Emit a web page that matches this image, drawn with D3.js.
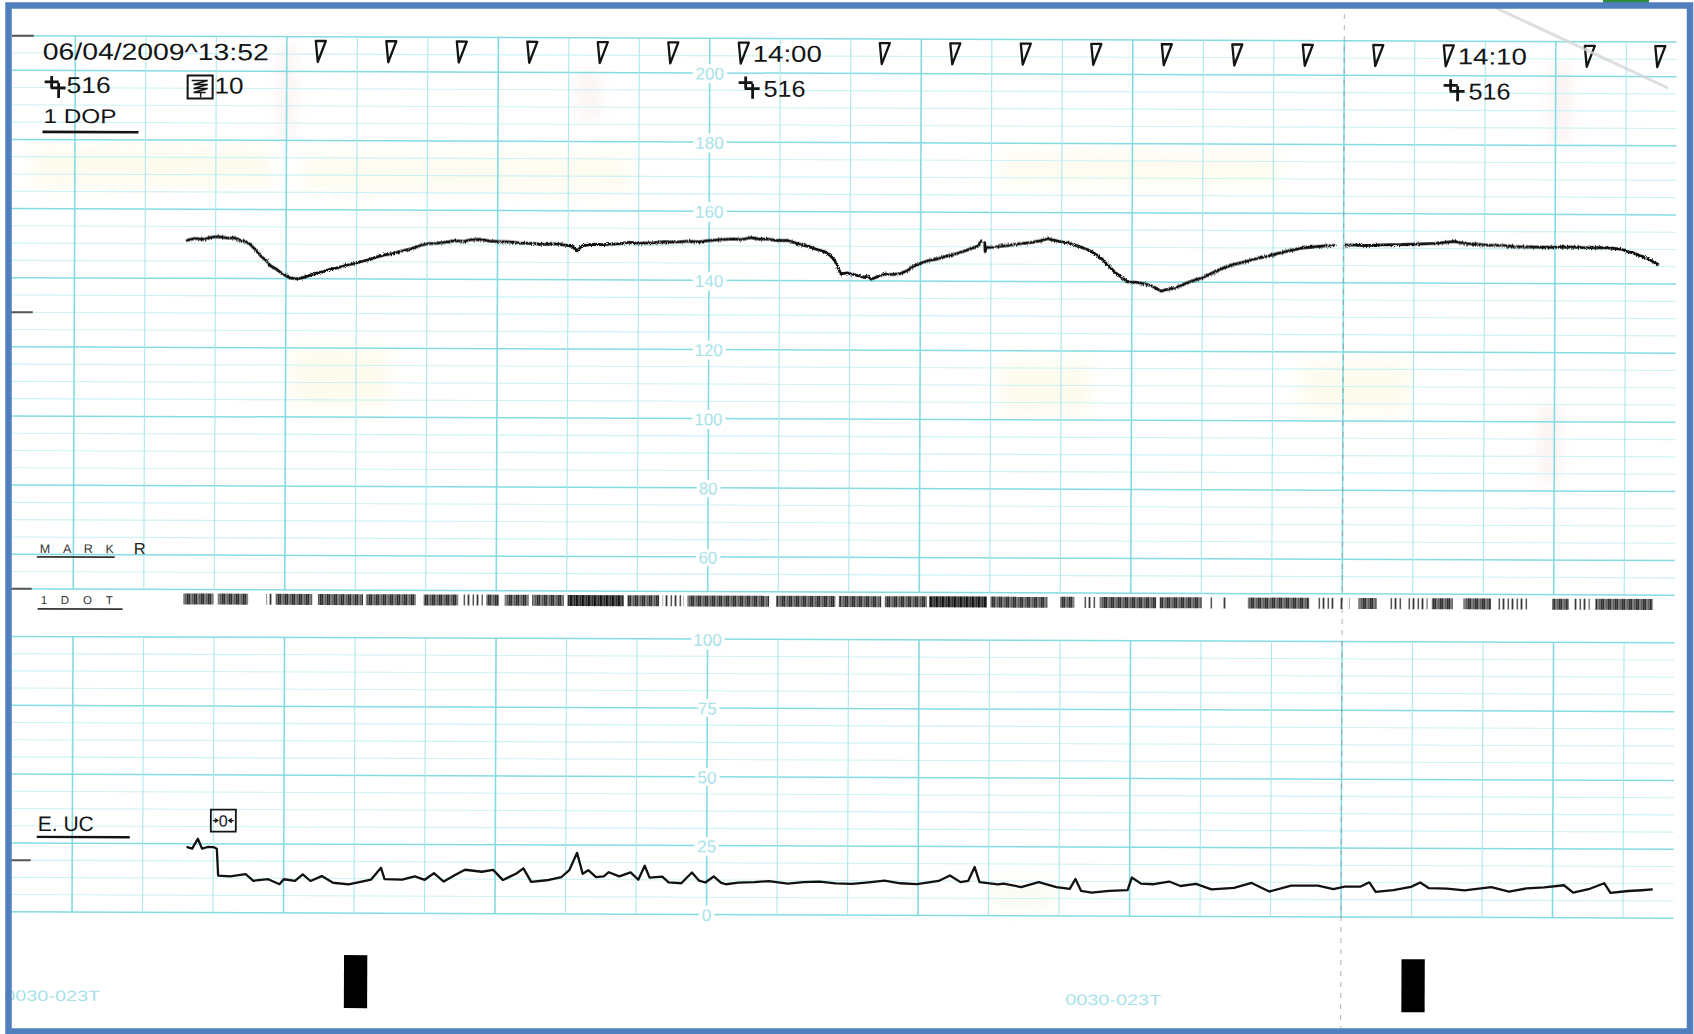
<!DOCTYPE html>
<html>
<head>
<meta charset="utf-8">
<title>CTG strip 06/04/2009 13:52</title>
<script src="https://cdn.jsdelivr.net/npm/d3@7/dist/d3.min.js"></script>
<style>
  html, body { margin: 0; padding: 0; background: #fff; overflow: hidden; }
  svg { display: block; }
  text { font-family: "Liberation Sans", Arial, sans-serif; }
</style>
</head>
<body>
<svg id="ctg" width="1694" height="1034"></svg>
<script>
// ---------------- data ----------------
const dateLabel = "06/04/2009^13:52";
const probeCode = "516";
const uaScaleCode = "10";
const hrChannel = "1 DOP";
const ucChannel = "E. UC";
const paperCode = "0030-023T";

// minute markers (minutes after 13:52); 9 and 19 sit under the time texts
const minuteMarks = [2, 3, 4, 5, 6, 7, 8, 10, 11, 12, 13, 14, 15, 16, 17, 18, 20, 21];
const timeLabels = [{ minute: 8, text: "14:00" }, { minute: 18, text: "14:10" }];
const probeMarks = [8, 18];

const fhrTicks = [60, 80, 100, 120, 140, 160, 180, 200];
const ucTicks = [0, 25, 50, 75, 100];

// fetal heart rate [minute, bpm]; null = pen lift
const fhrTrace = [
  [0.18,151.0],[0.30,151.6],[0.42,151.3],[0.55,152.0],[0.64,152.1],[0.75,151.7],[0.85,151.8],
  [0.94,151.1],[1.02,150.6],[1.08,149.9],[1.15,148.4],[1.23,146.6],[1.30,145.4],[1.37,143.7],
  [1.45,142.8],[1.52,141.7],[1.58,141.0],[1.64,140.3],[1.72,140.0],[1.81,140.2],[1.90,140.8],
  [2.01,141.6],[2.10,142.0],[2.20,142.7],[2.30,143.1],[2.42,143.8],[2.53,144.3],[2.64,145.0],
  [2.75,145.5],[2.86,146.3],[2.99,147.0],[3.10,147.4],[3.24,148.2],[3.38,148.9],[3.50,149.8],
  [3.60,150.3],[3.72,150.4],[3.87,150.8],[4.00,151.2],[4.10,150.9],[4.21,151.5],[4.35,151.6],
  [4.48,151.1],[4.60,151.0],[4.75,150.9],[4.90,150.6],[5.09,150.5],[5.25,150.2],[5.40,150.4],
  [5.57,150.0],[5.65,149.6],[5.72,148.4],[5.78,149.7],[5.82,150.0],[5.95,150.3],[6.10,150.2],
  [6.31,150.5],[6.45,150.9],[6.60,150.6],[6.80,150.8],[6.95,151.1],[7.10,151.0],[7.28,151.3],
  [7.45,151.1],[7.58,151.5],[7.75,151.8],[7.94,152.0],[8.05,151.8],[8.18,152.4],[8.30,152.0],
  [8.42,152.0],[8.55,151.6],[8.71,151.6],[8.80,151.0],[8.89,150.4],[9.00,149.9],[9.10,149.2],
  [9.22,148.5],[9.30,147.5],[9.37,145.9],[9.42,143.8],[9.46,142.0],[9.55,142.3],[9.60,142.0],
  [9.70,141.6],[9.79,141.0],[9.84,141.4],[9.89,140.5],[9.98,141.2],[10.08,142.0],[10.20,141.9],
  [10.31,142.2],[10.40,143.0],[10.50,144.4],[10.60,145.2],[10.69,145.9],[10.80,146.3],
  [10.97,147.3],[11.10,148.0],[11.26,149.1],[11.40,150.2],[11.45,151.7],
  [11.47,null],
  [11.50,151.2],[11.505,148.6],[11.52,149.8],[11.62,149.9],[11.73,150.2],[11.85,150.5],
  [12.01,151.0],[12.15,151.3],[12.28,151.8],[12.39,152.4],[12.48,152.0],[12.58,151.6],
  [12.68,151.2],[12.80,150.5],[12.96,149.3],[13.05,148.3],[13.15,146.8],[13.25,144.8],
  [13.34,142.9],[13.43,141.5],[13.53,140.0],[13.64,139.9],[13.76,139.5],[13.85,139.0],
  [13.93,138.2],[14.00,137.4],[14.08,137.8],[14.19,138.3],[14.30,139.2],[14.47,140.5],
  [14.60,141.4],[14.72,142.6],[14.85,143.9],[15.04,145.2],[15.20,146.0],[15.35,146.9],
  [15.51,147.6],[15.65,148.4],[15.80,149.1],[15.99,150.0],[16.15,150.3],[16.30,150.6],
  [16.46,150.8],
  [16.54,null],
  [16.62,150.9],[16.70,151.0],[16.90,150.8],[17.10,151.0],[17.40,151.1],[17.65,151.3],
  [17.90,151.5],[18.16,152.1],[18.30,151.5],[18.50,151.3],[18.65,151.0],[18.82,151.0],
  [19.00,150.7],[19.20,150.6],[19.53,150.5],[19.80,150.6],[20.00,150.4],[20.24,150.5],
  [20.40,150.3],[20.53,150.0],[20.62,149.3],[20.71,148.9],[20.80,148.1],[20.90,147.3],
  [21.05,145.7]
];

// uterine contraction [minute, value]
const ucTrace = [
  [0.21,23.8],[0.29,23.2],[0.37,26.8],[0.43,23.2],[0.51,23.8],[0.59,23.8],[0.64,23.2],
  [0.66,13.4],[0.83,13.2],[1.05,14.0],[1.16,11.6],[1.37,12.2],[1.53,10.4],[1.59,12.2],
  [1.75,11.6],[1.86,14.0],[1.97,11.6],[2.13,13.4],[2.29,11.0],[2.51,10.4],[2.83,12.2],
  [2.97,16.5],[3.02,12.4],[3.27,12.2],[3.45,13.4],[3.59,12.2],[3.72,14.6],[3.86,11.6],
  [4.02,14.0],[4.16,15.9],[4.40,15.2],[4.56,15.9],[4.70,12.2],[4.89,14.6],[4.99,16.5],
  [5.10,11.6],[5.32,12.2],[5.53,13.4],[5.64,15.9],[5.75,22.2],[5.83,14.6],[5.91,15.9],
  [6.02,13.4],[6.13,13.7],[6.20,15.2],[6.35,13.7],[6.51,15.2],[6.62,12.5],[6.71,17.6],
  [6.78,13.3],[6.96,13.7],[7.05,11.6],[7.23,11.3],[7.38,15.2],[7.48,12.3],[7.57,11.6],
  [7.69,13.8],[7.79,11.6],[7.86,11.0],[8.04,11.6],[8.27,11.8],[8.47,12.2],[8.74,11.3],
  [8.96,11.9],[9.19,12.1],[9.42,11.5],[9.65,11.3],[9.89,11.9],[10.11,12.5],[10.34,11.6],
  [10.57,11.3],[10.74,12.0],[10.88,12.5],[11.04,14.5],[11.19,12.1],[11.30,12.6],[11.39,17.6],
  [11.46,12.1],[11.72,11.3],[11.80,11.6],[12.05,10.4],[12.30,12.2],[12.55,10.4],[12.74,9.8],
  [12.82,13.4],[12.90,9.1],[13.05,8.5],[13.30,9.1],[13.56,9.4],[13.62,14.0],[13.75,11.8],
  [13.93,11.6],[14.15,12.6],[14.31,11.0],[14.53,11.8],[14.75,9.8],[15.07,10.4],[15.32,12.2],
  [15.57,9.1],[15.88,11.3],[16.26,11.3],[16.48,10.1],[16.64,11.0],[16.86,11.0],[16.99,12.6],
  [17.08,9.1],[17.33,9.8],[17.58,11.0],[17.71,12.6],[17.83,10.6],[18.09,10.4],[18.34,9.8],
  [18.72,11.0],[18.97,9.4],[19.22,10.6],[19.47,11.0],[19.75,11.8],[19.88,9.1],[20.10,10.4],
  [20.32,12.6],[20.41,9.1],[20.66,9.8],[20.85,10.1],[21.01,10.4]
];

// fetal movement / dot channel runs [fromMinute, toMinute, density]
const movementRuns = [
  [0.15,0.58,"d"],[0.64,1.07,"d"],[1.33,1.42,"s"],[1.46,1.98,"d"],[2.06,2.70,"d"],[2.74,3.45,"d"],
  [3.56,4.05,"d"],[4.12,4.40,"s"],[4.45,4.63,"d"],[4.71,5.05,"d"],[5.10,5.55,"d"],[5.60,6.40,"h"],
  [6.45,6.90,"d"],[6.95,7.25,"s"],[7.30,8.46,"d"],[8.56,9.40,"d"],[9.45,10.05,"d"],[10.10,10.70,"d"],
  [10.73,11.55,"h"],[11.60,12.41,"d"],[12.59,12.79,"d"],[12.92,13.10,"s"],[13.15,13.95,"d"],
  [14.00,14.60,"d"],[14.71,14.76,"s"],[14.88,14.94,"s"],[15.25,16.12,"d"],[16.22,16.47,"s"],
  [16.55,16.60,"s"],[16.66,16.70,"s"],[16.82,17.08,"d"],[17.24,17.45,"s"],[17.52,17.80,"s"],
  [17.86,18.16,"d"],[18.31,18.70,"d"],[18.78,19.23,"s"],[19.57,19.80,"d"],[19.88,20.10,"s"],
  [20.18,20.99,"d"]
];

// black page-sense blocks printed on the paper (minutes)
const pageMarks = [2.45, 17.45];

// ---------------- layout ----------------
const W = 1694, H = 1034;
const svg = d3.select("#ctg");
svg.append("rect").attr("width", W).attr("height", H).attr("fill", "#ffffff");

const defs = svg.append("defs");
// soft bleed of the thermal paper stains
defs.append("filter").attr("id", "bleed").attr("x", "-30%").attr("y", "-30%")
  .attr("width", "160%").attr("height", "160%")
  .append("feGaussianBlur").attr("stdDeviation", 8);
// slight pen chatter of the thermal print head
const chatter = defs.append("filter").attr("id", "chatter")
  .attr("filterUnits", "userSpaceOnUse")
  .attr("x", 0).attr("y", 0).attr("width", W).attr("height", H);
chatter.append("feTurbulence").attr("type", "fractalNoise")
  .attr("baseFrequency", "1.3 0.9").attr("numOctaves", 1).attr("seed", 3).attr("result", "n");
chatter.append("feDisplacementMap").attr("in", "SourceGraphic").attr("in2", "n")
  .attr("scale", 3.6).attr("xChannelSelector", "R").attr("yChannelSelector", "G");

// the strip sits very slightly skewed on the scanner bed
const paper = svg.append("g").attr("transform", "rotate(0.22 847 517)");

const x = d3.scaleLinear().domain([0, 21]).range([173, 173 + 21 * 70.5]);
const yHR = d3.scaleLinear().domain([50, 210]).range([592, 592 - 160 * 3.457]);
const yUC = d3.scaleLinear().domain([0, 100]).range([915, 915 - 100 * 2.7536]);

const gridLeft = 10, gridRight = 1675;
const gridOrigin = 7.589;                 // paper column on which the scale is printed
const paperColumns = d3.range(-9, 14);     // one-minute paper divisions
const labelX = x(gridOrigin);

const cyanStrong = "#84dbe2", cyanSoft = "#cdf2f4", cyanMid = "#ade8ed";

// faint paper discolouration
const stains = paper.append("g").attr("filter", "url(#bleed)").attr("opacity", 0.35);
[
  [30, 150, 240, 40, "#fbf4cf"], [300, 155, 330, 40, "#fbf6d6"], [1000, 150, 280, 35, "#fbf6d6"],
  [290, 350, 100, 60, "#fbf4cf"], [1000, 360, 90, 55, "#fbf4cf"], [1300, 360, 110, 50, "#fbf4cf"],
  [278, 45, 14, 95, "#f6d6d6"], [1548, 60, 22, 80, "#f7dcdc"], [1538, 400, 22, 80, "#f7dcdc"],
  [575, 70, 24, 50, "#f7dede"], [990, 880, 70, 30, "#f5f5e0"]
].forEach(([sx, sy, sw, sh, c]) => stains.append("rect")
  .attr("x", sx).attr("y", sy).attr("width", sw).attr("height", sh).attr("fill", c));

// --- horizontal grid: heart rate section
const hrLines = d3.range(50, 211, 5);
const hrMajor = d => d % 20 === 0 || d === 210 || d === 50;
paper.append("g").selectAll("line").data(hrLines).join("line")
  .attr("x1", gridLeft).attr("x2", gridRight)
  .attr("y1", d => yHR(d)).attr("y2", d => yHR(d))
  .attr("stroke", d => hrMajor(d) ? cyanStrong : cyanSoft)
  .attr("stroke-width", d => hrMajor(d) ? 1.5 : 1.1);

// --- horizontal grid: contraction section
const ucLines = d3.range(0, 100.01, 6.25);
paper.append("g").selectAll("line").data(ucLines).join("line")
  .attr("x1", gridLeft).attr("x2", gridRight)
  .attr("y1", d => yUC(d)).attr("y2", d => yUC(d))
  .attr("stroke", d => d % 25 === 0 ? cyanStrong : cyanSoft)
  .attr("stroke-width", d => d % 25 === 0 ? 1.5 : 1.1);

// --- vertical grid in both sections
[[yHR(210), yHR(50)], [yUC(100), yUC(0)]].forEach(([y0, y1]) => {
  paper.append("g").selectAll("line").data(paperColumns).join("line")
    .attr("x1", k => x(gridOrigin + k)).attr("x2", k => x(gridOrigin + k))
    .attr("y1", y0).attr("y2", y1)
    .attr("stroke", k => k % 3 === 0 ? cyanStrong : cyanMid)
    .attr("stroke-width", k => k % 3 === 0 ? 1.6 : 1.1);
});

// perforation fold
paper.append("line")
  .attr("x1", x(gridOrigin + 9)).attr("x2", x(gridOrigin + 9))
  .attr("y1", 12).attr("y2", 1026)
  .attr("stroke", "#8f8f8f").attr("stroke-width", 1.3)
  .attr("stroke-dasharray", "5 6").attr("opacity", 0.55);

// --- printed scale numbers in the centre column
function scaleLabels(scale, ticks) {
  const g = paper.append("g")
    .attr("transform", `translate(${labelX},0)`)
    .call(d3.axisRight(scale).tickValues(ticks).tickSize(0).tickFormat(d3.format("d")));
  g.select(".domain").remove();
  g.selectAll("text")
    .attr("x", 0).attr("dy", "0.36em")
    .attr("text-anchor", "middle")
    .attr("fill", "#a8e2e9")
    .attr("font-size", 17)
    .attr("font-family", "Liberation Sans, Arial, sans-serif")
    .attr("stroke", "#ffffff").attr("stroke-width", 7)
    .attr("paint-order", "stroke");
}
scaleLabels(yHR, fhrTicks);
scaleLabels(yUC, ucTicks);

// --- left edge ticks
const edgeTicks = [yHR(210), yHR(130), yHR(50), yUC(18.75)];
paper.append("g").selectAll("line").data(edgeTicks).join("line")
  .attr("x1", 10).attr("x2", 32).attr("y1", d => d).attr("y2", d => d)
  .attr("stroke", "#555").attr("stroke-width", 2);

// ---------------- annotation row ----------------
const ink = "#141414";

// minute triangles
paper.append("g").selectAll("path").data(minuteMarks).join("path")
  .attr("d", m => { const x0 = x(m); return `M${x0},43 H${x0 + 10} L${x0 + 2},64 Z`; })
  .attr("fill", "none").attr("stroke", ink).attr("stroke-width", 2.3)
  .attr("stroke-linejoin", "round");

// time stamps
paper.append("g").selectAll("text").data(timeLabels).join("text")
  .attr("x", d => x(d.minute) + 14).attr("y", 62)
  .attr("font-size", 23).attr("fill", ink)
  .attr("textLength", 69).attr("lengthAdjust", "spacingAndGlyphs")
  .text(d => d.text);

// transducer symbol
function probeIcon(g, x0, y0) {
  g.append("path")
    .attr("d", `M${x0},${y0 + 6} H${x0 + 14} M${x0 + 7},${y0} V${y0 + 12} M${x0 + 6},${y0 + 12} H${x0 + 21} M${x0 + 14},${y0 + 7} V${y0 + 22}`)
    .attr("stroke", ink).attr("stroke-width", 2.8).attr("fill", "none");
}
probeMarks.forEach(m => {
  probeIcon(paper, x(m), 77);
  paper.append("text").attr("x", x(m) + 25).attr("y", 97)
    .attr("font-size", 23).attr("fill", ink)
    .attr("textLength", 42).attr("lengthAdjust", "spacingAndGlyphs")
    .text(probeCode);
});

// ---------------- header block ----------------
paper.append("text").attr("x", 41).attr("y", 62.5)
  .attr("font-size", 23.5).attr("fill", ink)
  .attr("textLength", 226).attr("lengthAdjust", "spacingAndGlyphs")
  .text(dateLabel);

probeIcon(paper, 43, 79);
paper.append("text").attr("x", 65).attr("y", 96)
  .attr("font-size", 23).attr("fill", ink)
  .attr("textLength", 44).attr("lengthAdjust", "spacingAndGlyphs")
  .text(probeCode);

// sensitivity box
paper.append("rect").attr("x", 186).attr("y", 78).attr("width", 25).attr("height", 23)
  .attr("fill", "none").attr("stroke", ink).attr("stroke-width", 2);
paper.append("path")
  .attr("d", "M190,83 H206 L192,87 H206 L192,91 H206 L192,95 H204 M199,95 V100")
  .attr("fill", "none").attr("stroke", ink).attr("stroke-width", 1.4);
paper.append("text").attr("x", 213).attr("y", 96)
  .attr("font-size", 23).attr("fill", ink)
  .attr("textLength", 29).attr("lengthAdjust", "spacingAndGlyphs")
  .text(uaScaleCode);

paper.append("text").attr("x", 42).attr("y", 126)
  .attr("font-size", 20).attr("fill", ink)
  .attr("textLength", 73).attr("lengthAdjust", "spacingAndGlyphs")
  .text(hrChannel);
paper.append("line").attr("x1", 41).attr("x2", 137).attr("y1", 135).attr("y2", 135)
  .attr("stroke", ink).attr("stroke-width", 2.6);

// MARK / DOT channel captions
paper.append("text").attr("x", 40).attr("y", 556)
  .attr("font-size", 12.5).attr("fill", "#333")
  .attr("textLength", 74).attr("lengthAdjust", "spacing")
  .text("MARK");
paper.append("line").attr("x1", 37).attr("x2", 115).attr("y1", 560).attr("y2", 560)
  .attr("stroke", "#333").attr("stroke-width", 1.8);
paper.append("text").attr("x", 134).attr("y", 557)
  .attr("font-size", 16.5).attr("fill", "#222").text("R");

paper.append("text").attr("x", 41).attr("y", 607)
  .attr("font-size", 11.5).attr("fill", "#333")
  .attr("textLength", 72).attr("lengthAdjust", "spacing")
  .text("1DOT");
paper.append("line").attr("x1", 38).attr("x2", 123).attr("y1", 612).attr("y2", 612)
  .attr("stroke", "#333").attr("stroke-width", 1.8);

// contraction caption
paper.append("text").attr("x", 39).attr("y", 834)
  .attr("font-size", 21).attr("fill", ink)
  .attr("textLength", 56).attr("lengthAdjust", "spacingAndGlyphs")
  .text(ucChannel);
paper.append("line").attr("x1", 38).attr("x2", 131).attr("y1", 840).attr("y2", 840)
  .attr("stroke", ink).attr("stroke-width", 2.4);

// zero-reference box
paper.append("rect").attr("x", 212).attr("y", 812).attr("width", 25).attr("height", 22)
  .attr("fill", "none").attr("stroke", ink).attr("stroke-width", 1.8);
paper.append("text").attr("x", 224.5).attr("y", 829)
  .attr("text-anchor", "middle").attr("font-size", 16).attr("fill", ink).text("0");
paper.append("path")
  .attr("d", "M214,823 H218 M216,821 L219,823 L216,825 M235,823 H231 M233,821 L230,823 L233,825")
  .attr("fill", "none").attr("stroke", ink).attr("stroke-width", 1.3);

// ---------------- movement dot channel ----------------
const patterns = {
  d: { w: 7, bars: [[0, 1.6], [2.6, 1.2], [4.6, 2.0]] },
  h: { w: 6, bars: [[0, 2.8], [3.4, 2.2]] },
  s: { w: 9, bars: [[0, 1.5], [5, 1.1]] }
};
Object.entries(patterns).forEach(([key, p]) => {
  const pat = defs.append("pattern").attr("id", "dots-" + key)
    .attr("patternUnits", "userSpaceOnUse").attr("width", p.w).attr("height", 20);
  p.bars.forEach(([bx, bw]) => pat.append("rect").attr("x", bx).attr("y", 0)
    .attr("width", bw).attr("height", 20).attr("fill", "#111"));
});
paper.append("g").selectAll("rect").data(movementRuns).join("rect")
  .attr("x", d => x(d[0])).attr("width", d => Math.max(2, x(d[1]) - x(d[0])))
  .attr("y", 596).attr("height", 11)
  .attr("fill", d => `url(#dots-${d[2]})`);

// ---------------- traces ----------------
const fhrLine = d3.line()
  .defined(d => d[1] !== null)
  .x(d => x(d[0])).y(d => yHR(d[1]));
paper.append("path").datum(fhrTrace)
  .attr("d", fhrLine)
  .attr("fill", "none").attr("stroke", "#111").attr("stroke-width", 2.8)
  .attr("stroke-linejoin", "round").attr("stroke-linecap", "round")
  .attr("filter", "url(#chatter)");

const ucLine = d3.line().x(d => x(d[0])).y(d => yUC(d[1]));
paper.append("path").datum(ucTrace)
  .attr("d", ucLine)
  .attr("fill", "none").attr("stroke", "#111").attr("stroke-width", 2.3)
  .attr("stroke-linejoin", "round");

// ---------------- paper footer ----------------
paper.append("g").selectAll("rect").data(pageMarks).join("rect")
  .attr("x", m => x(m)).attr("width", x(0.33) - x(0))
  .attr("y", 957).attr("height", 53).attr("fill", "#000");

paper.append("g").selectAll("text").data([6, 1067]).join("text")
  .attr("x", d => d).attr("y", 1004)
  .attr("font-size", 15).attr("fill", "#a8e2ea")
  .attr("textLength", 96).attr("lengthAdjust", "spacingAndGlyphs")
  .text(paperCode);

// crease across the top-right corner
svg.append("line").attr("x1", 1496).attr("y1", 8).attr("x2", 1668).attr("y2", 88)
  .attr("stroke", "#d6d6d6").attr("stroke-width", 3).attr("opacity", 0.8);

// ---------------- frame ----------------
svg.append("rect").attr("x", 1603).attr("y", 0).attr("width", 46).attr("height", 6).attr("fill", "#2e8b3e");
svg.append("rect")
  .attr("x", 8.5).attr("y", 5.5).attr("width", 1681.5).attr("height", 1026)
  .attr("fill", "none").attr("stroke", "#4f7fbe").attr("stroke-width", 6.5);
</script>
</body>
</html>
